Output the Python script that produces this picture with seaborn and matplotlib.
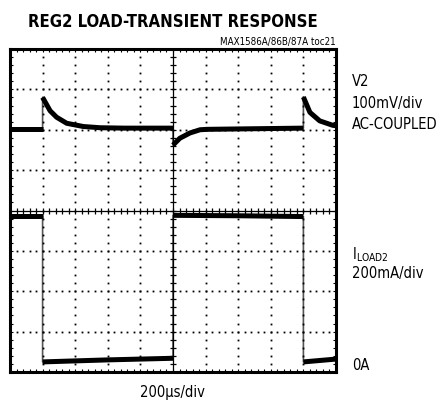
import numpy as np
import pandas as pd
import seaborn as sns
import matplotlib.pyplot as plt

# scope screen: 10 x 8 divisions, values in divisions
v2_t = [0.0, 1.0, 1.0, 1.23, 1.43, 1.74, 2.25, 2.76, 3.5, 4.3, 5.0,
        5.0, 5.21, 5.52, 5.83, 6.04, 7.0, 8.0, 9.0,
        9.0, 9.2, 9.5, 9.9, 10.0]
v2_v = [6.02, 6.02, 6.80, 6.47, 6.31, 6.16, 6.08, 6.05, 6.04, 6.04, 6.04,
        5.62, 5.79, 5.92, 6.00, 6.01, 6.02, 6.03, 6.04,
        6.81, 6.43, 6.22, 6.11, 6.10]

iload_t = [0.0, 1.0, 1.0, 3.0, 5.0, 5.0, 7.0, 9.0, 9.0, 10.0]
iload_v = [3.86, 3.86, 0.25, 0.30, 0.34, 3.88, 3.87, 3.85, 0.25, 0.32]

right_labels = ["V2", "100mV/div", "AC-COUPLED"]
iload_labels = ["200mA/div"]

sns.set_theme(style="white")
plt.rcParams["font.family"] = ["DejaVu Sans"]
plt.rcParams["font.stretch"] = "condensed"
plt.rcParams["text.color"] = "black"

fig = plt.figure(figsize=(4.41, 4.02), dpi=100)
ax = fig.add_axes([10 / 441, 29 / 402, 326 / 441, 323 / 402])


def trace_frame(t, v, name):
    # split at vertical jumps so the flat parts can be drawn thick
    seg = np.concatenate([[0], np.cumsum(np.diff(t) == 0)])
    return pd.DataFrame({"t": t, "v": v, "seg": [f"{name}{s}" for s in seg]})


for t, v, name in [(v2_t, v2_v, "v2"), (iload_t, iload_v, "il")]:
    df = trace_frame(t, v, name)
    sns.lineplot(x=t, y=v, color="#555555", lw=1.2, ax=ax, sort=False,
                 estimator=None)
    sns.lineplot(data=df, x="t", y="v", units="seg", estimator=None,
                 color="black", lw=3.6, ax=ax, sort=False,
                 solid_capstyle="butt")

# dotted graticule
minor_x = np.arange(0, 10.01, 0.2)
minor_y = np.arange(0, 8.01, 0.2)
for gy in [1, 2, 3, 5, 6, 7]:
    ax.plot(minor_x, np.full_like(minor_x, gy), ls="none", marker="s",
            ms=1.3, color="black", mew=0)
for gx in [1, 2, 3, 4, 6, 7, 8, 9]:
    ax.plot(np.full_like(minor_y, gx), minor_y, ls="none", marker="s",
            ms=1.3, color="black", mew=0)
# centre axes with tick marks
ax.axhline(4, color="black", lw=0.9)
ax.axvline(5, color="black", lw=0.9)
ax.plot(minor_x, np.full_like(minor_x, 4), ls="none", marker="|", ms=5,
        color="black", mew=0.9)
ax.plot(np.full_like(minor_y, 5), minor_y, ls="none", marker="_", ms=5,
        color="black", mew=0.9)

ax.set_xlim(0, 10)
ax.set_ylim(0, 8)
ax.set_xticks(range(0, 11))
ax.set_yticks(range(0, 9))
ax.set_xticks(minor_x, minor=True)
ax.set_yticks(minor_y, minor=True)
ax.tick_params(which="both", direction="in", length=2.5, width=0.8,
               top=True, right=True, bottom=True, left=True,
               labelbottom=False, labelleft=False, color="black")
ax.set_xlabel("")
ax.set_ylabel("")
for s in ax.spines.values():
    s.set_color("black")
    s.set_linewidth(2.2)

fig.text(28 / 441, 1 - 22 / 402, "REG2 LOAD-TRANSIENT RESPONSE",
         fontsize=12, fontweight="heavy", va="center", ha="left")
fig.text(336 / 441, 1 - 42 / 402, "MAX1586A/86B/87A toc21", fontsize=7,
         va="center", ha="right")

for y, s in zip([82, 104, 125], right_labels):
    fig.text(352 / 441, 1 - y / 402, s, fontsize=10.5, va="center", ha="left")
fig.text(352 / 441, 1 - 255 / 402, r"I$_{\mathsf{LOAD2}}$", fontsize=10.5,
         va="center", ha="left")
fig.text(352 / 441, 1 - 274 / 402, iload_labels[0], fontsize=10.5,
         va="center", ha="left")
fig.text(352 / 441, 1 - 366 / 402, "0A", fontsize=10.5, va="center",
         ha="left")
fig.text(172 / 441, 1 - 393 / 402, "200µs/div", fontsize=10.5, va="center",
         ha="center")

fig.savefig("out.png", dpi=100)
